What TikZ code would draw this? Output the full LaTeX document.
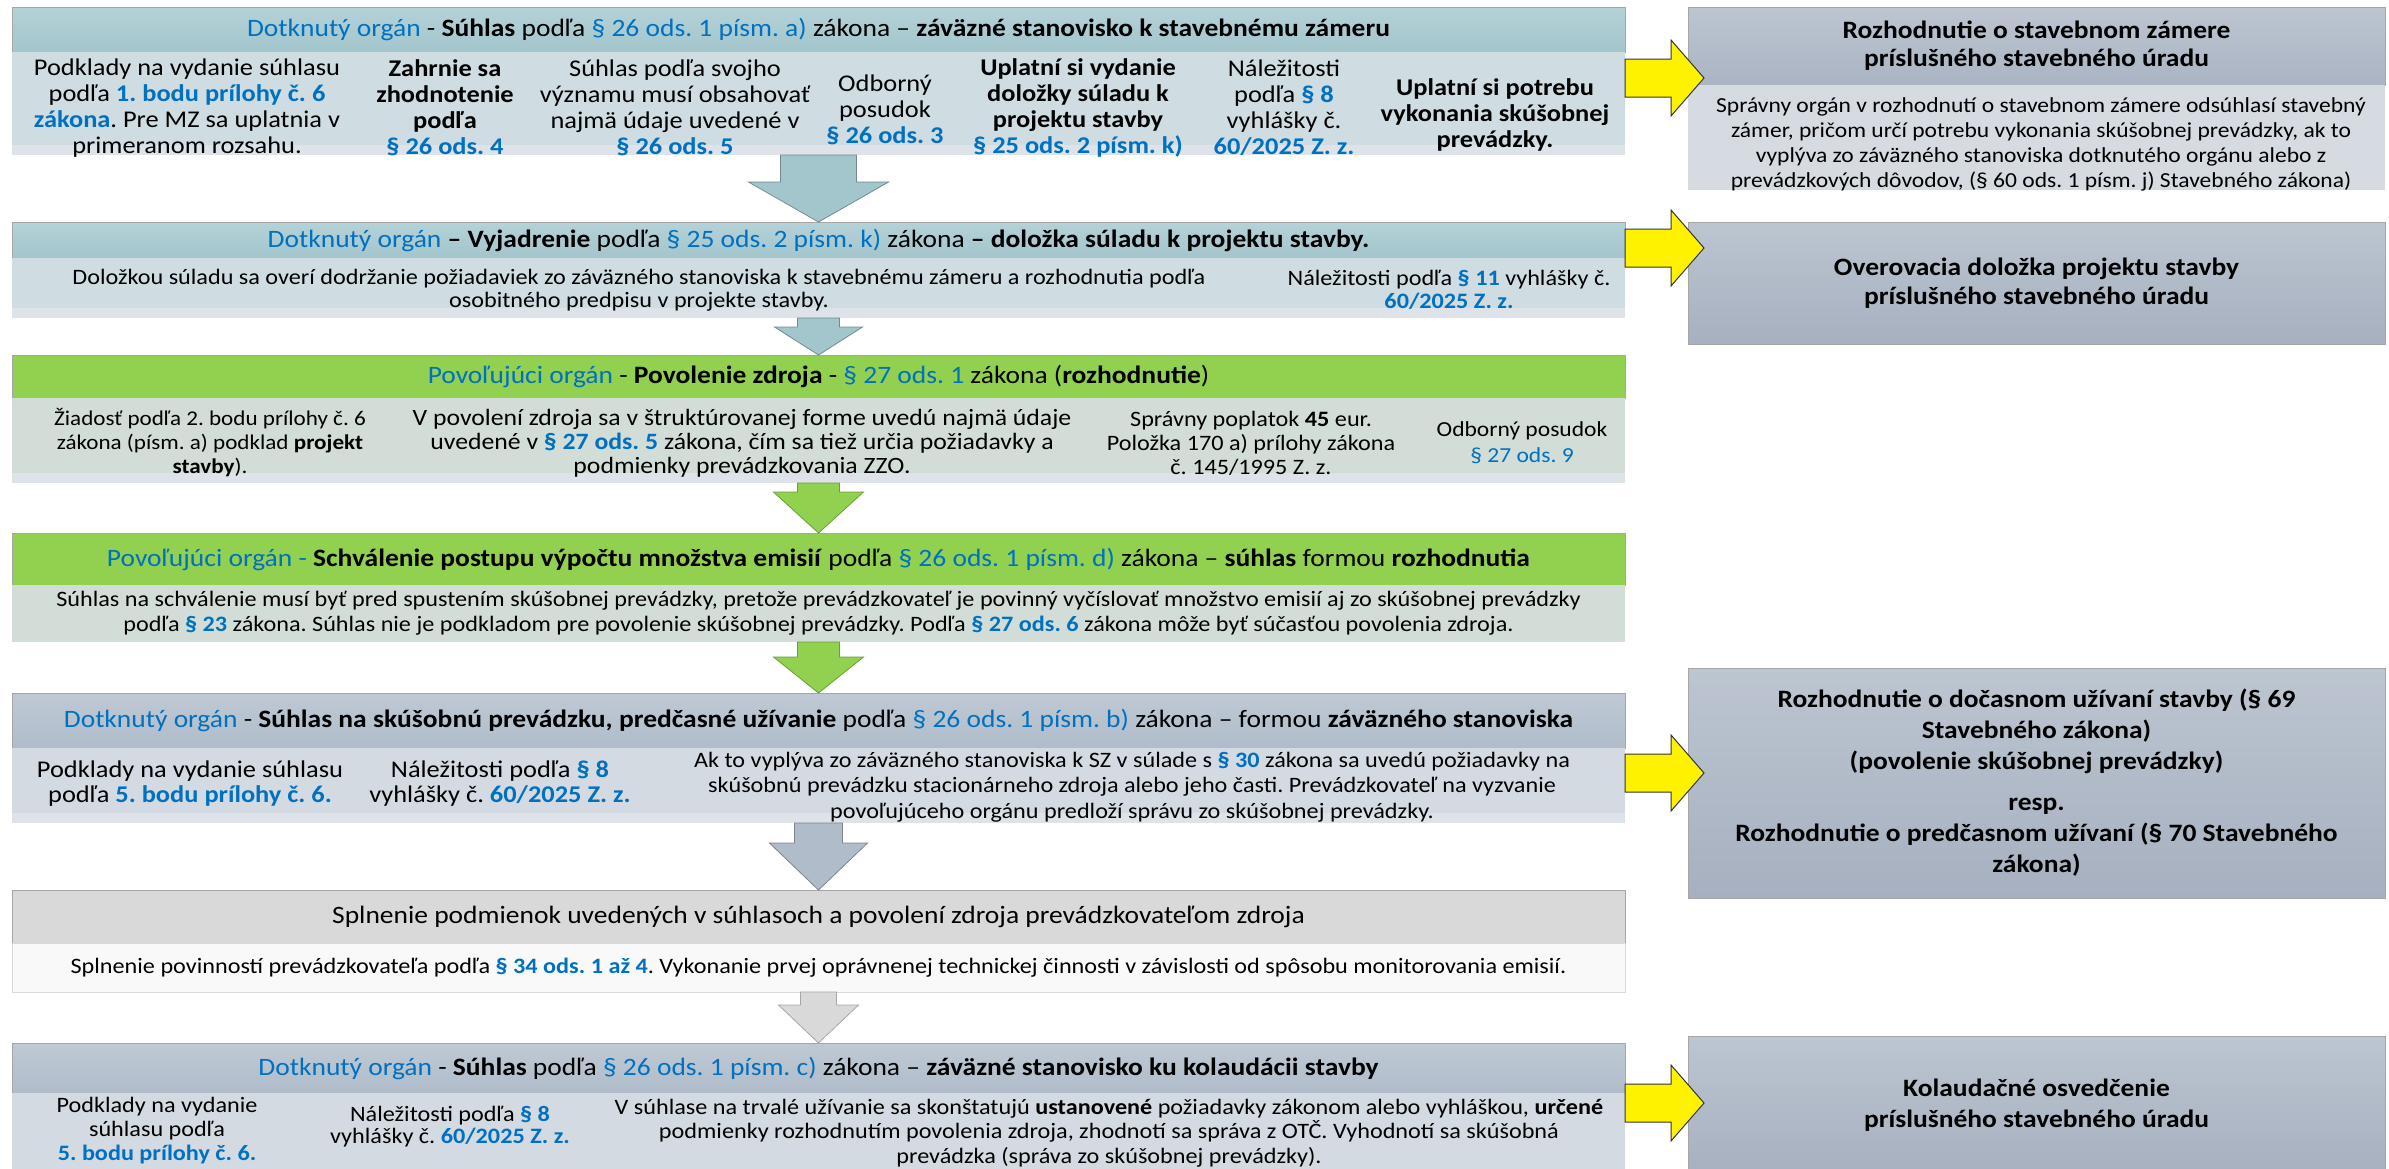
\documentclass[tikz,border=0pt]{standalone}
\usepackage{fontspec}
\setmainfont{Carlito}[FakeStretch=1.1]
\usetikzlibrary{calc}
\frenchspacing

\definecolor{lawblue}{HTML}{0070C0}
\definecolor{tealtop}{HTML}{B4D2D8}
\definecolor{tealbot}{HTML}{A3C5CC}
\definecolor{tealsub}{HTML}{CFDCE1}
\definecolor{grn}{HTML}{92D050}
\definecolor{grnsub}{HTML}{D2DDD7}
\definecolor{slatetop}{HTML}{BFC9D5}
\definecolor{slatebot}{HTML}{B0BCCA}
\definecolor{slatesub}{HTML}{D4DAE1}
\definecolor{sidetop}{HTML}{BCC5D0}
\definecolor{sidebot}{HTML}{A6B0C0}
\definecolor{sidesub}{HTML}{D6DBE2}
\definecolor{stripcol}{HTML}{DDE3E9}

\newcommand\lawref[1]{\textcolor{lawblue}{#1}}
\newcommand\lawbf[1]{\textbf{\textcolor{lawblue}{#1}}}

% block arrow between two stacked boxes
\newcommand\flowarrow[6]{%
  \filldraw[#1] let \p1=(#2.south), \p2=(#3.north) in
    (\x1-#4,\y1) -- (\x1+#4,\y1) -- (\x1+#4,\y2+#6) -- (\x1+#5,\y2+#6)
    -- (\x1,\y2) -- (\x1-#5,\y2+#6) -- (\x1-#4,\y2+#6) -- cycle;}

% yellow arrow into a result box
\newcommand\resultarrow[2]{%
  \filldraw[yellowarrow] let \p1=(#1), \p2=(#2.west) in
    (\x1,\y1+9.5pt) -- (\x2-8.5pt,\y1+9.5pt) -- (\x2-8.5pt,\y1+19pt)
    -- (\x2+8pt,\y1) -- (\x2-8.5pt,\y1-19pt) -- (\x2-8.5pt,\y1-9.5pt)
    -- (\x1,\y1-9.5pt) -- cycle;}

\begin{document}
\begin{tikzpicture}[x=0.5pt,y=-0.5pt,
  band/.style={inner sep=0pt,outer sep=0pt,minimum width=806.5pt},
  hdr/.style={band,draw=gray!70,line width=0.4pt,font=\fontsize{12.5}{14}\selectfont},
  sub/.style={band,align=center,font=\fontsize{11}{12.5}\selectfont},
  striped/.style={path picture={\fill[stripcol] (path picture bounding box.south west)
    rectangle ([yshift=5pt]path picture bounding box.south east);}},
  cell/.style={inner sep=0pt,align=center,font=\fontsize{11}{13}\selectfont},
  sidebox/.style={inner sep=0pt,outer sep=0pt,minimum width=348.5pt,draw=gray!70,
    line width=0.4pt,align=center,font=\bfseries\fontsize{12.5}{15.5}\selectfont},
  tealarrow/.style={fill=tealbot,draw=tealbot!70!black,line width=0.4pt},
  grnarrow/.style={fill=grn,draw=grn!75!black,line width=0.4pt},
  slatearrow/.style={fill=slatebot,draw=slatebot!70!black,line width=0.4pt},
  greyarrow/.style={fill=gray!30,draw=gray!70,line width=0.4pt},
  yellowarrow/.style={fill=yellow,draw=black!80,line width=0.5pt}]
  \useasboundingbox (0,0) rectangle (2389,1168);

  \node[hdr,top color=tealtop,bottom color=tealbot,minimum height=22.5pt] (r1h) at (818.5,29.5)
    {\lawref{Dotknutý orgán} - \textbf{Súhlas} podľa \lawref{§ 26 ods. 1 písm. a)} zákona -- \textbf{záväzné stanovisko k stavebnému zámeru}};
  \node[sub,striped,fill=tealsub,minimum height=51.5pt] (r1s) at (818.5,103.5) {};
  \node[cell,font=\fontsize{12}{13}\selectfont] (r1a) at (187,108) {Podklady na vydanie súhlasu\\ podľa \lawbf{1. bodu prílohy č. 6}\\ \lawbf{zákona}. Pre MZ sa uplatnia v\\ primeranom rozsahu.};
  \node[cell,font=\bfseries\fontsize{12}{13}\selectfont] (r1b) at (445,108) {Zahrnie sa\\ zhodnotenie\\ podľa\\ \lawref{§ 26 ods. 4}};
  \node[cell,font=\fontsize{12}{13}\selectfont] (r1c) at (675,108) {Súhlas podľa svojho\\ významu musí obsahovať\\ najmä údaje uvedené v\\ \lawbf{§ 26 ods. 5}};
  \node[cell,font=\fontsize{12}{13}\selectfont] (r1d) at (885,110) {Odborný\\ posudok\\ \lawbf{§ 26 ods. 3}};
  \node[cell,font=\bfseries\fontsize{12}{13}\selectfont] (r1e) at (1078,108) {Uplatní si vydanie\\ doložky súladu k\\ projektu stavby\\ \lawref{§ 25 ods. 2 písm. k)}};
  \node[cell,font=\fontsize{12}{13}\selectfont] (r1f) at (1284,108) {Náležitosti\\ podľa \lawbf{§ 8}\\ vyhlášky č.\\ \lawbf{60/2025 Z. z.}};
  \node[cell,font=\bfseries\fontsize{12}{13}\selectfont] (r1g) at (1495,115) {Uplatní si potrebu\\ vykonania skúšobnej\\ prevádzky.};

  \node[hdr,top color=tealtop,bottom color=tealbot,minimum height=18pt] (r2h) at (818.5,240)
    {\lawref{Dotknutý orgán} \textbf{-- Vyjadrenie} podľa \lawref{§ 25 ods. 2 písm. k)} zákona \textbf{-- doložka súladu k projektu stavby.}};
  \node[sub,striped,fill=tealsub,minimum height=30pt] (r2s) at (818.5,288) {};
  \node[cell,font=\fontsize{11}{11.5}\selectfont] (r2a) at (639,290) {Doložkou súladu sa overí dodržanie požiadaviek zo záväzného stanoviska k stavebnému zámeru a rozhodnutia podľa\\ osobitného predpisu v projekte stavby.};
  \node[cell,font=\fontsize{11}{11.5}\selectfont] (r2b) at (1449,290) {Náležitosti podľa \lawbf{§ 11} vyhlášky č.\\ \lawbf{60/2025 Z. z.}};

  \node[hdr,fill=grn,minimum height=21.5pt] (r3h) at (818.5,376.5)
    {\lawref{Povoľujúci orgán} - \textbf{Povolenie zdroja} - \lawref{§ 27 ods. 1} zákona (\textbf{rozhodnutie})};
  \node[sub,striped,fill=grnsub,minimum height=42.5pt] (r3s) at (818.5,440.5) {};
  \node[cell,font=\fontsize{10.5}{12}\selectfont] (r3a) at (210,443) {Žiadosť podľa 2. bodu prílohy č. 6\\ zákona (písm. a) podklad \textbf{projekt}\\ \textbf{stavby}).};
  \node[cell,font=\fontsize{11.7}{12}\selectfont] (r3b) at (742,443) {V povolení zdroja sa v štruktúrovanej forme uvedú najmä údaje\\ uvedené v \lawbf{§ 27 ods. 5} zákona, čím sa tiež určia požiadavky a\\ podmienky prevádzkovania ZZO.};
  \node[cell,font=\fontsize{11}{12}\selectfont] (r3c) at (1251,443) {Správny poplatok \textbf{45} eur.\\ Položka 170 a) prílohy zákona\\ č. 145/1995 Z. z.};
  \node[cell,font=\fontsize{10.7}{13}\selectfont] (r3d) at (1522,443) {Odborný posudok\\ \lawref{§ 27 ods. 9}};

  \node[hdr,fill=grn,minimum height=26pt] (r4h) at (818.5,559)
    {\lawref{Povoľujúci orgán -} \textbf{Schválenie postupu výpočtu množstva emisií} podľa \lawref{§ 26 ods. 1 písm. d)} zákona -- \textbf{súhlas} formou \textbf{rozhodnutia}};
  \node[sub,fill=grnsub,minimum height=28.5pt] (r4s) at (818.5,613.5)
    {Súhlas na schválenie musí byť pred spustením skúšobnej prevádzky, pretože prevádzkovateľ je povinný vyčíslovať množstvo emisií aj zo skúšobnej prevádzky\\
     podľa \lawbf{§ 23} zákona. Súhlas nie je podkladom pre povolenie skúšobnej prevádzky. Podľa \lawbf{§ 27 ods. 6} zákona môže byť súčasťou povolenia zdroja.};

  \node[hdr,top color=slatetop,bottom color=slatebot,minimum height=27.5pt] (r5h) at (818.5,720.5)
    {\lawref{Dotknutý orgán} - \textbf{Súhlas na skúšobnú prevádzku, predčasné užívanie} podľa \lawref{§ 26 ods. 1 písm. b)} zákona -- formou \textbf{záväzného stanoviska}};
  \node[sub,striped,fill=slatesub,minimum height=37.5pt] (r5s) at (818.5,785.5) {};
  \node[cell,font=\fontsize{12}{12.5}\selectfont] (r5a) at (190,784) {Podklady na vydanie súhlasu\\ podľa \lawbf{5. bodu prílohy č. 6.}};
  \node[cell,font=\fontsize{12}{12.5}\selectfont] (r5b) at (500,784) {Náležitosti podľa \lawbf{§ 8}\\ vyhlášky č. \lawbf{60/2025 Z. z.}};
  \node[cell,font=\fontsize{11}{12.75}\selectfont] (r5c) at (1132,787) {Ak to vyplýva zo záväzného stanoviska k SZ v súlade s \lawbf{§ 30} zákona sa uvedú požiadavky na\\ skúšobnú prevádzku stacionárneho zdroja alebo jeho časti. Prevádzkovateľ na vyzvanie\\ povoľujúceho orgánu predloží správu zo skúšobnej prevádzky.};

  \node[hdr,fill=gray!30,minimum height=26.5pt] (r6h) at (818.5,916.5)
    {Splnenie podmienok uvedených v súhlasoch a povolení zdroja prevádzkovateľom zdroja};
  \node[sub,fill=gray!5,draw=gray!30,minimum height=24.5pt] (r6s) at (818.5,967.5)
    {Splnenie povinností prevádzkovateľa podľa \lawbf{§ 34 ods. 1 až 4}. Vykonanie prvej oprávnenej technickej činnosti v závislosti od spôsobu monitorovania emisií.};

  \node[hdr,top color=slatetop,bottom color=slatebot,minimum height=25pt] (r7h) at (818.5,1068)
    {\lawref{Dotknutý orgán} - \textbf{Súhlas} podľa \lawref{§ 26 ods. 1 písm. c)} zákona -- \textbf{záväzné stanovisko ku kolaudácii stavby}};
  \node[sub,fill=slatesub,minimum height=41pt] (r7s) at (818.5,1134) {};
  \node[cell,font=\fontsize{11}{12}\selectfont] (r7a) at (157,1131) {Podklady na vydanie\\ súhlasu podľa\\ \lawbf{5. bodu prílohy č. 6.}};
  \node[cell,font=\fontsize{11}{11}\selectfont] (r7b) at (450,1127) {Náležitosti podľa \lawbf{§ 8}\\ vyhlášky č. \lawbf{60/2025 Z. z.}};
  \node[cell,font=\fontsize{11}{12.25}\selectfont] (r7c) at (1109,1133) {V súhlase na trvalé užívanie sa skonštatujú \textbf{ustanovené} požiadavky zákonom alebo vyhláškou, \textbf{určené}\\ podmienky rozhodnutím povolenia zdroja, zhodnotí sa správa z OTČ. Vyhodnotí sa skúšobná\\ prevádzka (správa zo skúšobnej prevádzky).};

  \flowarrow{tealarrow}{r1s}{r2h}{19pt}{35pt}{20pt}
  \flowarrow{tealarrow}{r2s}{r3h}{10.5pt}{22pt}{14pt}
  \flowarrow{grnarrow}{r3s}{r4h}{10.5pt}{22.5pt}{20.5pt}
  \flowarrow{grnarrow}{r4s}{r5h}{10.5pt}{22.5pt}{18pt}
  \flowarrow{slatearrow}{r5s}{r6h}{12pt}{24.5pt}{23.5pt}
  \flowarrow{greyarrow}{r6s}{r7h}{9pt}{20pt}{19pt}

  \node[sidebox,top color=sidetop,bottom color=sidebot!80!sidetop,minimum height=39pt,
    font=\bfseries\fontsize{12.5}{14}\selectfont] (zamer) at (2036.5,46)
    {Rozhodnutie o stavebnom zámere\\ príslušného stavebného úradu};
  \node[sidebox,fill=sidesub,draw=none,minimum height=52.5pt] (zamersub) at (2036.5,137.5) {};
  \node[cell,font=\fontsize{10.7}{12.5}\selectfont] (zamertext) at (2041,144)
    {Správny orgán v rozhodnutí o stavebnom zámere odsúhlasí stavebný\\ zámer, pričom určí potrebu vykonania skúšobnej prevádzky, ak to\\ vyplýva zo záväzného stanoviska dotknutého orgánu alebo z\\ prevádzkových dôvodov, (§ 60 ods. 1 písm. j) Stavebného zákona)};
  \node[sidebox,top color=sidetop,bottom color=sidebot,minimum height=61pt,
    font=\bfseries\fontsize{12.5}{14.5}\selectfont] (dolozka) at (2036.5,283)
    {Overovacia doložka projektu stavby\\ príslušného stavebného úradu};
  \node[sidebox,top color=sidetop,bottom color=sidebot,minimum height=115pt] (uzivanie) at (2036.5,783)
    {Rozhodnutie o dočasnom užívaní stavby (§ 69\\ Stavebného zákona)\\ (povolenie skúšobnej prevádzky)\\[5pt]
     resp.\\ Rozhodnutie o predčasnom užívaní (§ 70 Stavebného\\ zákona)};
  \node[sidebox,top color=sidetop,bottom color=sidebot,minimum height=69.5pt] (kolaudacia) at (2036.5,1105.5)
    {Kolaudačné osvedčenie\\ príslušného stavebného úradu};

  \coordinate (y1) at (1625,78);
  \coordinate (y2) at (1625,248);
  \coordinate (y3) at (1625,773);
  \coordinate (y4) at (1625,1103);
  \resultarrow{y1}{zamer}
  \resultarrow{y2}{dolozka}
  \resultarrow{y3}{uzivanie}
  \resultarrow{y4}{kolaudacia}
\end{tikzpicture}
\end{document}
